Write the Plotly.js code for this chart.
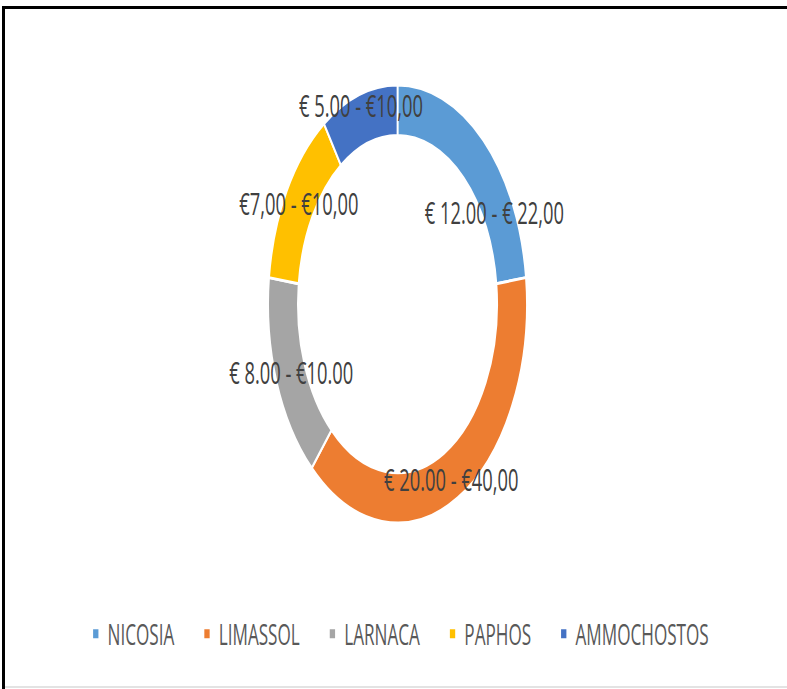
<!DOCTYPE html>
<html><head><meta charset="utf-8">
<script src="https://cdn.plot.ly/plotly-3.0.1.min.js"></script>
<style>
html,body{margin:0;padding:0;background:#fff;}
#frame{position:relative;width:787px;height:689px;overflow:hidden;background:#fff;}
#plot{position:absolute;left:0;top:0;width:1332px;height:689px;transform:scaleX(0.59084);transform-origin:0 0;}
.ln{position:absolute;z-index:5;}
#bt{left:2px;top:6px;right:0;height:3px;background:#000;}
#bl{left:2px;top:6px;width:3px;bottom:0;background:#000;}
#bb{left:5px;bottom:1px;right:0;height:2px;background:#e3e3e3;}
</style></head>
<body>
<div id="frame">
  <div id="plot"></div>
  <div class="ln" id="bt"></div>
  <div class="ln" id="bl"></div>
  <div class="ln" id="bb"></div>
</div>
<script>
const districts = ["NICOSIA", "LIMASSOL", "LARNACA", "PAPHOS", "AMMOCHOSTOS"];
const values = [12, 20, 8, 7, 5];
const priceLabels = ["€ 12.00 - € 22,00", "€ 20.00 - €40,00", "€ 8.00 - €10.00", "€7,00 - €10,00", "€ 5.00 - €10,00"];
const colors = ["#5B9BD5", "#ED7D31", "#A5A5A5", "#FFC000", "#4472C4"];

// label placement (style): radial fraction of outer radius and angle shift (deg)
const labelRadius = [0.86, 0.9, 0.88, 0.89, 0.95];
const labelAngleShift = [19.3, 0, 0, 0, 0];

const W = 1332, H = 689;
const dom = {x: [0.3407, 0.6695], y: [0.2409, 0.8766]};
const cx = (dom.x[0] + dom.x[1]) / 2, cy = (dom.y[0] + dom.y[1]) / 2;
const Rpx = Math.min((dom.x[1] - dom.x[0]) * W, (dom.y[1] - dom.y[0]) * H) / 2;

const total = values.reduce((a, b) => a + b, 0);
let cum = 0;
const annotations = values.map((v, i) => {
  const mid = (cum + v / 2) / total * 360 + labelAngleShift[i];
  cum += v;
  const a = mid * Math.PI / 180;
  const r = labelRadius[i] * Rpx;
  return {
    xref: "paper", yref: "paper",
    x: cx + r * Math.sin(a) / W,
    y: cy + r * Math.cos(a) / H,
    xanchor: "center", yanchor: "middle",
    text: priceLabels[i], showarrow: false,
    font: {family: "Open Sans, Liberation Sans, sans-serif", size: 31, color: "#404040"}
  };
});

// legend spacing: pad entries (except last) with non-breaking spaces
const legendPad = "\u00a0\u00a0\u00a0\u00a0";
const legendNames = districts.map((d, i) => i < districts.length - 1 ? d + legendPad : d);

const trace = {
  type: "pie",
  labels: legendNames,
  values: values,
  textinfo: "none",
  hole: 0.77,
  sort: false,
  direction: "clockwise",
  rotation: 0,
  marker: {colors: colors, line: {color: "#ffffff", width: 3}},
  domain: dom,
  hoverinfo: "none"
};

const layout = {
  width: W, height: H,
  margin: {l: 0, r: 0, t: 0, b: 0},
  paper_bgcolor: "#ffffff",
  showlegend: true,
  annotations: annotations,
  legend: {
    orientation: "h", x: 0.5057, xanchor: "center", y: 0.0798, yanchor: "middle",
    font: {family: "Open Sans, Liberation Sans, sans-serif", size: 29, color: "#595959"},
    traceorder: "normal"
  }
};

Plotly.newPlot("plot", [trace], layout, {displayModeBar: false, staticPlot: true});
</script>
</body></html>
